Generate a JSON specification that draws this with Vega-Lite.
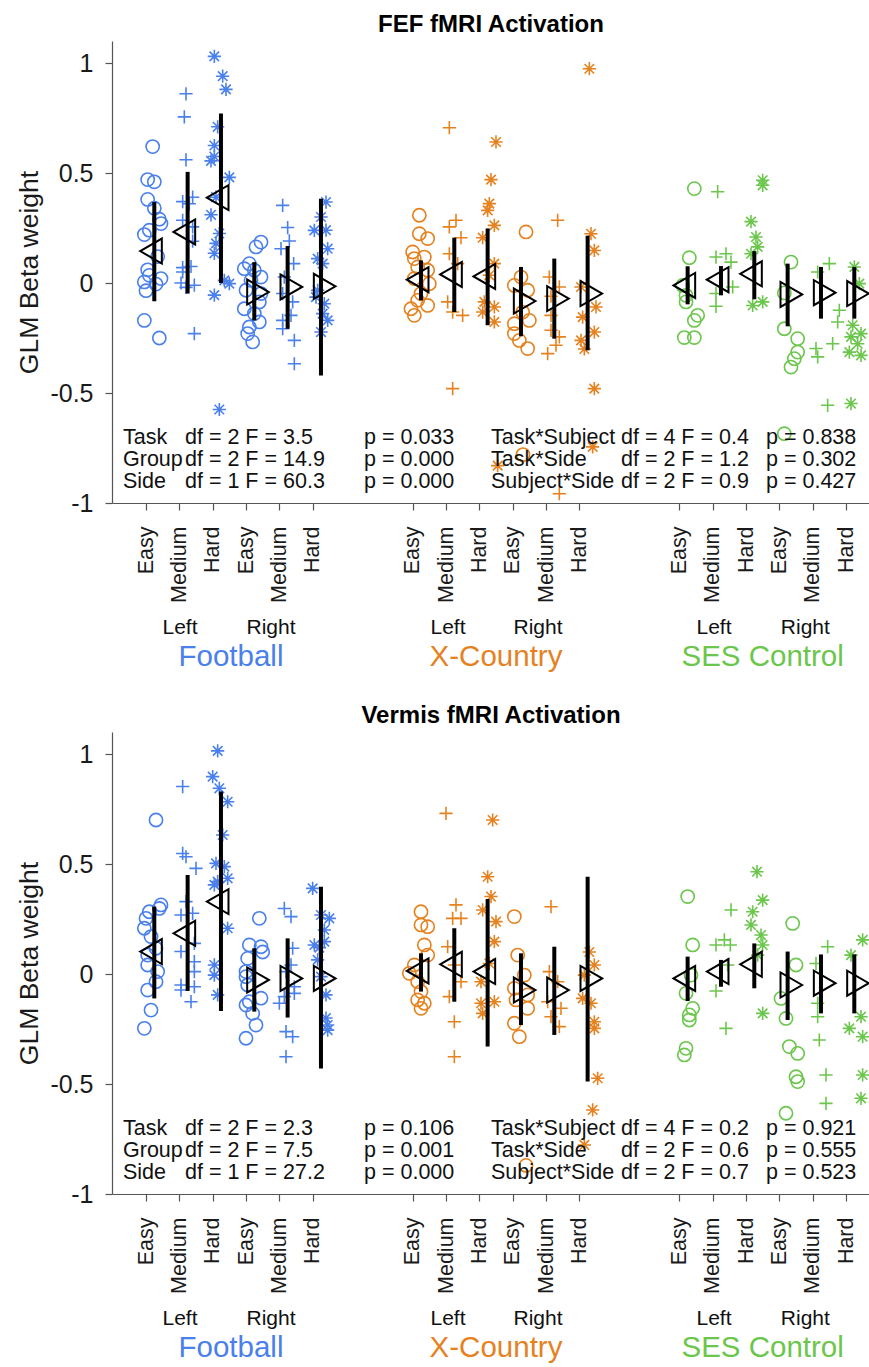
{
"$schema": "https://vega.github.io/schema/vega-lite/v6.json",
"padding": {"left": 16, "top": 13, "right": 0, "bottom": 0},
"background": "white",
"config": {
  "font": "Liberation Sans",
  "view": {"stroke": null},
  "axis": {"grid": false, "domainColor": "#555555", "tickColor": "#555555", "labelColor": "#1a1a1a", "titleColor": "#1a1a1a", "domainWidth": 1.2, "tickWidth": 1.2},
  "title": {"fontSize": 24, "fontWeight": "bold", "color": "black", "frame": "group", "anchor": "middle", "offset": 4, "baseline": "bottom"}
},
"datasets": {
  "pts": [
{"p":"F","g":"FB","t":"E","x":0.2,"y":0.62},{"p":"F","g":"FB","t":"E","x":0.05,"y":0.47},{"p":"F","g":"FB","t":"E","x":0.25,"y":0.46},{"p":"F","g":"FB","t":"E","x":0.05,"y":0.38},{"p":"F","g":"FB","t":"E","x":0.25,"y":0.34},{"p":"F","g":"FB","t":"E","x":0.4,"y":0.29},{"p":"F","g":"FB","t":"E","x":0.45,"y":0.27},{"p":"F","g":"FB","t":"E","x":0.1,"y":0.24},{"p":"F","g":"FB","t":"E","x":-0.05,"y":0.22},{"p":"F","g":"FB","t":"E","x":0.35,"y":0.12},{"p":"F","g":"FB","t":"E","x":0.05,"y":0.06},{"p":"F","g":"FB","t":"E","x":0.1,"y":0.035},{"p":"F","g":"FB","t":"E","x":0.45,"y":0.02},{"p":"F","g":"FB","t":"E","x":-0.05,"y":0.005},{"p":"F","g":"FB","t":"E","x":0.3,"y":-0.005},{"p":"F","g":"FB","t":"E","x":0.0,"y":-0.035},{"p":"F","g":"FB","t":"E","x":-0.05,"y":-0.17},{"p":"F","g":"FB","t":"E","x":0.4,"y":-0.25},
{"p":"F","g":"FB","t":"M","x":1.2,"y":0.86},{"p":"F","g":"FB","t":"M","x":1.15,"y":0.755},{"p":"F","g":"FB","t":"M","x":1.2,"y":0.56},{"p":"F","g":"FB","t":"M","x":1.4,"y":0.39},{"p":"F","g":"FB","t":"M","x":1.1,"y":0.37},{"p":"F","g":"FB","t":"M","x":1.3,"y":0.36},{"p":"F","g":"FB","t":"M","x":1.1,"y":0.285},{"p":"F","g":"FB","t":"M","x":1.4,"y":0.255},{"p":"F","g":"FB","t":"M","x":1.4,"y":0.19},{"p":"F","g":"FB","t":"M","x":1.1,"y":0.07},{"p":"F","g":"FB","t":"M","x":1.35,"y":0.075},{"p":"F","g":"FB","t":"M","x":1.1,"y":0.05},{"p":"F","g":"FB","t":"M","x":1.05,"y":0.0},{"p":"F","g":"FB","t":"M","x":1.45,"y":-0.01},{"p":"F","g":"FB","t":"M","x":1.2,"y":-0.02},{"p":"F","g":"FB","t":"M","x":1.45,"y":-0.23},
{"p":"F","g":"FB","t":"H","x":2.05,"y":1.03},{"p":"F","g":"FB","t":"H","x":2.3,"y":0.94},{"p":"F","g":"FB","t":"H","x":2.4,"y":0.88},{"p":"F","g":"FB","t":"H","x":2.15,"y":0.71},{"p":"F","g":"FB","t":"H","x":2.05,"y":0.625},{"p":"F","g":"FB","t":"H","x":2.05,"y":0.575},{"p":"F","g":"FB","t":"H","x":1.95,"y":0.555},{"p":"F","g":"FB","t":"H","x":2.5,"y":0.48},{"p":"F","g":"FB","t":"H","x":2.1,"y":0.39},{"p":"F","g":"FB","t":"H","x":1.95,"y":0.31},{"p":"F","g":"FB","t":"H","x":2.2,"y":0.225},{"p":"F","g":"FB","t":"H","x":2.1,"y":0.18},{"p":"F","g":"FB","t":"H","x":2.05,"y":0.135},{"p":"F","g":"FB","t":"H","x":2.35,"y":0.012},{"p":"F","g":"FB","t":"H","x":2.5,"y":-0.003},{"p":"F","g":"FB","t":"H","x":2.05,"y":-0.055},{"p":"F","g":"FB","t":"H","x":2.2,"y":-0.575},
{"p":"F","g":"FB","t":"E","x":3.45,"y":0.186},{"p":"F","g":"FB","t":"E","x":3.3,"y":0.164},{"p":"F","g":"FB","t":"E","x":3.1,"y":0.088},{"p":"F","g":"FB","t":"E","x":2.95,"y":0.065},{"p":"F","g":"FB","t":"E","x":3.25,"y":0.058},{"p":"F","g":"FB","t":"E","x":3.45,"y":0.027},{"p":"F","g":"FB","t":"E","x":3.15,"y":0.012},{"p":"F","g":"FB","t":"E","x":3.0,"y":-0.033},{"p":"F","g":"FB","t":"E","x":3.45,"y":-0.048},{"p":"F","g":"FB","t":"E","x":3.4,"y":-0.086},{"p":"F","g":"FB","t":"E","x":2.95,"y":-0.117},{"p":"F","g":"FB","t":"E","x":3.25,"y":-0.139},{"p":"F","g":"FB","t":"E","x":3.4,"y":-0.177},{"p":"F","g":"FB","t":"E","x":3.1,"y":-0.2},{"p":"F","g":"FB","t":"E","x":3.05,"y":-0.23},{"p":"F","g":"FB","t":"E","x":3.2,"y":-0.268},
{"p":"F","g":"FB","t":"M","x":4.1,"y":0.353},{"p":"F","g":"FB","t":"M","x":4.25,"y":0.252},{"p":"F","g":"FB","t":"M","x":4.3,"y":0.191},{"p":"F","g":"FB","t":"M","x":4.05,"y":0.156},{"p":"F","g":"FB","t":"M","x":4.43,"y":0.088},{"p":"F","g":"FB","t":"M","x":4.15,"y":0.027},{"p":"F","g":"FB","t":"M","x":4.1,"y":-0.048},{"p":"F","g":"FB","t":"M","x":4.4,"y":-0.086},{"p":"F","g":"FB","t":"M","x":4.35,"y":-0.147},{"p":"F","g":"FB","t":"M","x":4.1,"y":-0.17},{"p":"F","g":"FB","t":"M","x":4.1,"y":-0.208},{"p":"F","g":"FB","t":"M","x":4.45,"y":-0.261},{"p":"F","g":"FB","t":"M","x":4.45,"y":-0.367},
{"p":"F","g":"FB","t":"H","x":5.4,"y":0.368},{"p":"F","g":"FB","t":"H","x":5.25,"y":0.3},{"p":"F","g":"FB","t":"H","x":5.05,"y":0.239},{"p":"F","g":"FB","t":"H","x":5.4,"y":0.24},{"p":"F","g":"FB","t":"H","x":5.45,"y":0.156},{"p":"F","g":"FB","t":"H","x":5.15,"y":0.111},{"p":"F","g":"FB","t":"H","x":5.3,"y":0.088},{"p":"F","g":"FB","t":"H","x":5.15,"y":-0.033},{"p":"F","g":"FB","t":"H","x":5.1,"y":-0.064},{"p":"F","g":"FB","t":"H","x":5.35,"y":-0.094},{"p":"F","g":"FB","t":"H","x":5.3,"y":-0.139},{"p":"F","g":"FB","t":"H","x":5.45,"y":-0.17},{"p":"F","g":"FB","t":"H","x":5.25,"y":-0.223},
{"p":"F","g":"XC","t":"E","x":8.2,"y":0.308},{"p":"F","g":"XC","t":"E","x":8.2,"y":0.224},{"p":"F","g":"XC","t":"E","x":8.45,"y":0.202},{"p":"F","g":"XC","t":"E","x":8.0,"y":0.141},{"p":"F","g":"XC","t":"E","x":8.05,"y":0.111},{"p":"F","g":"XC","t":"E","x":8.35,"y":0.118},{"p":"F","g":"XC","t":"E","x":8.15,"y":0.073},{"p":"F","g":"XC","t":"E","x":8.45,"y":0.058},{"p":"F","g":"XC","t":"E","x":8.05,"y":0.02},{"p":"F","g":"XC","t":"E","x":8.5,"y":-0.003},{"p":"F","g":"XC","t":"E","x":8.25,"y":-0.048},{"p":"F","g":"XC","t":"E","x":8.15,"y":-0.079},{"p":"F","g":"XC","t":"E","x":8.45,"y":-0.102},{"p":"F","g":"XC","t":"E","x":7.95,"y":-0.117},{"p":"F","g":"XC","t":"E","x":8.05,"y":-0.147},
{"p":"F","g":"XC","t":"M","x":9.1,"y":0.706},{"p":"F","g":"XC","t":"M","x":9.3,"y":0.285},{"p":"F","g":"XC","t":"M","x":9.1,"y":0.255},{"p":"F","g":"XC","t":"M","x":9.45,"y":0.206},{"p":"F","g":"XC","t":"M","x":9.1,"y":0.133},{"p":"F","g":"XC","t":"M","x":9.35,"y":0.088},{"p":"F","g":"XC","t":"M","x":9.05,"y":-0.086},{"p":"F","g":"XC","t":"M","x":9.2,"y":-0.132},{"p":"F","g":"XC","t":"M","x":9.5,"y":-0.147},{"p":"F","g":"XC","t":"M","x":9.2,"y":-0.48},
{"p":"F","g":"XC","t":"H","x":10.5,"y":0.641},{"p":"F","g":"XC","t":"H","x":10.35,"y":0.47},{"p":"F","g":"XC","t":"H","x":10.3,"y":0.361},{"p":"F","g":"XC","t":"H","x":10.25,"y":0.33},{"p":"F","g":"XC","t":"H","x":10.45,"y":0.262},{"p":"F","g":"XC","t":"H","x":10.1,"y":0.206},{"p":"F","g":"XC","t":"H","x":10.45,"y":0.088},{"p":"F","g":"XC","t":"H","x":10.3,"y":0.035},{"p":"F","g":"XC","t":"H","x":10.15,"y":-0.086},{"p":"F","g":"XC","t":"H","x":10.45,"y":-0.109},{"p":"F","g":"XC","t":"H","x":10.1,"y":-0.132},{"p":"F","g":"XC","t":"H","x":10.45,"y":-0.177},{"p":"F","g":"XC","t":"H","x":10.55,"y":-0.83},
{"p":"F","g":"XC","t":"E","x":11.4,"y":0.232},{"p":"F","g":"XC","t":"E","x":11.25,"y":0.027},{"p":"F","g":"XC","t":"E","x":11.05,"y":-0.011},{"p":"F","g":"XC","t":"E","x":11.45,"y":-0.033},{"p":"F","g":"XC","t":"E","x":11.3,"y":-0.132},{"p":"F","g":"XC","t":"E","x":11.5,"y":-0.17},{"p":"F","g":"XC","t":"E","x":11.05,"y":-0.185},{"p":"F","g":"XC","t":"E","x":11.05,"y":-0.23},{"p":"F","g":"XC","t":"E","x":11.2,"y":-0.261},{"p":"F","g":"XC","t":"E","x":11.45,"y":-0.298},{"p":"F","g":"XC","t":"E","x":11.31,"y":-0.78},
{"p":"F","g":"XC","t":"M","x":12.35,"y":0.285},{"p":"F","g":"XC","t":"M","x":12.1,"y":0.027},{"p":"F","g":"XC","t":"M","x":12.4,"y":-0.018},{"p":"F","g":"XC","t":"M","x":12.15,"y":-0.06},{"p":"F","g":"XC","t":"M","x":12.15,"y":-0.147},{"p":"F","g":"XC","t":"M","x":12.15,"y":-0.215},{"p":"F","g":"XC","t":"M","x":12.4,"y":-0.245},{"p":"F","g":"XC","t":"M","x":12.3,"y":-0.283},{"p":"F","g":"XC","t":"M","x":12.05,"y":-0.321},{"p":"F","g":"XC","t":"M","x":12.4,"y":-0.958},
{"p":"F","g":"XC","t":"H","x":13.3,"y":0.974},{"p":"F","g":"XC","t":"H","x":13.35,"y":0.224},{"p":"F","g":"XC","t":"H","x":13.45,"y":0.148},{"p":"F","g":"XC","t":"H","x":13.05,"y":-0.018},{"p":"F","g":"XC","t":"H","x":13.5,"y":-0.109},{"p":"F","g":"XC","t":"H","x":13.1,"y":-0.155},{"p":"F","g":"XC","t":"H","x":13.45,"y":-0.223},{"p":"F","g":"XC","t":"H","x":13.05,"y":-0.261},{"p":"F","g":"XC","t":"H","x":13.15,"y":-0.3},{"p":"F","g":"XC","t":"H","x":13.45,"y":-0.48},{"p":"F","g":"XC","t":"H","x":13.4,"y":-0.745},
{"p":"F","g":"SES","t":"E","x":16.45,"y":0.429},{"p":"F","g":"SES","t":"E","x":16.3,"y":0.115},{"p":"F","g":"SES","t":"E","x":16.1,"y":-0.011},{"p":"F","g":"SES","t":"E","x":16.2,"y":-0.056},{"p":"F","g":"SES","t":"E","x":16.2,"y":-0.086},{"p":"F","g":"SES","t":"E","x":16.55,"y":-0.147},{"p":"F","g":"SES","t":"E","x":16.45,"y":-0.17},{"p":"F","g":"SES","t":"E","x":16.15,"y":-0.248},{"p":"F","g":"SES","t":"E","x":16.45,"y":-0.248},
{"p":"F","g":"SES","t":"M","x":17.15,"y":0.415},{"p":"F","g":"SES","t":"M","x":17.1,"y":0.118},{"p":"F","g":"SES","t":"M","x":17.4,"y":0.133},{"p":"F","g":"SES","t":"M","x":17.55,"y":0.095},{"p":"F","g":"SES","t":"M","x":17.6,"y":-0.018},{"p":"F","g":"SES","t":"M","x":17.1,"y":-0.048},{"p":"F","g":"SES","t":"M","x":17.1,"y":-0.106},
{"p":"F","g":"SES","t":"H","x":18.5,"y":0.467},{"p":"F","g":"SES","t":"H","x":18.5,"y":0.444},{"p":"F","g":"SES","t":"H","x":18.15,"y":0.279},{"p":"F","g":"SES","t":"H","x":18.3,"y":0.209},{"p":"F","g":"SES","t":"H","x":18.35,"y":0.164},{"p":"F","g":"SES","t":"H","x":18.15,"y":0.133},{"p":"F","g":"SES","t":"H","x":18.5,"y":-0.086},{"p":"F","g":"SES","t":"H","x":18.2,"y":-0.102},
{"p":"F","g":"SES","t":"E","x":19.35,"y":0.095},{"p":"F","g":"SES","t":"E","x":19.15,"y":-0.045},{"p":"F","g":"SES","t":"E","x":19.15,"y":-0.208},{"p":"F","g":"SES","t":"E","x":19.55,"y":-0.253},{"p":"F","g":"SES","t":"E","x":19.55,"y":-0.314},{"p":"F","g":"SES","t":"E","x":19.45,"y":-0.344},{"p":"F","g":"SES","t":"E","x":19.35,"y":-0.382},{"p":"F","g":"SES","t":"E","x":19.15,"y":-0.685},
{"p":"F","g":"SES","t":"M","x":20.5,"y":0.088},{"p":"F","g":"SES","t":"M","x":20.15,"y":0.05},{"p":"F","g":"SES","t":"M","x":20.8,"y":-0.124},{"p":"F","g":"SES","t":"M","x":20.75,"y":-0.177},{"p":"F","g":"SES","t":"M","x":20.6,"y":-0.276},{"p":"F","g":"SES","t":"M","x":20.1,"y":-0.298},{"p":"F","g":"SES","t":"M","x":20.15,"y":-0.336},{"p":"F","g":"SES","t":"M","x":20.45,"y":-0.556},
{"p":"F","g":"SES","t":"H","x":21.25,"y":0.073},{"p":"F","g":"SES","t":"H","x":21.4,"y":-0.003},{"p":"F","g":"SES","t":"H","x":21.2,"y":-0.192},{"p":"F","g":"SES","t":"H","x":21.45,"y":-0.23},{"p":"F","g":"SES","t":"H","x":21.15,"y":-0.245},{"p":"F","g":"SES","t":"H","x":21.35,"y":-0.276},{"p":"F","g":"SES","t":"H","x":21.1,"y":-0.314},{"p":"F","g":"SES","t":"H","x":21.45,"y":-0.329},{"p":"F","g":"SES","t":"H","x":21.15,"y":-0.548},
{"p":"V","g":"FB","t":"E","x":0.3,"y":0.7},{"p":"V","g":"FB","t":"E","x":0.45,"y":0.314},{"p":"V","g":"FB","t":"E","x":0.4,"y":0.298},{"p":"V","g":"FB","t":"E","x":0.1,"y":0.283},{"p":"V","g":"FB","t":"E","x":0.0,"y":0.253},{"p":"V","g":"FB","t":"E","x":-0.05,"y":0.208},{"p":"V","g":"FB","t":"E","x":0.15,"y":0.17},{"p":"V","g":"FB","t":"E","x":0.3,"y":0.117},{"p":"V","g":"FB","t":"E","x":0.05,"y":0.086},{"p":"V","g":"FB","t":"E","x":0.05,"y":0.041},{"p":"V","g":"FB","t":"E","x":0.35,"y":0.011},{"p":"V","g":"FB","t":"E","x":0.3,"y":-0.035},{"p":"V","g":"FB","t":"E","x":0.05,"y":-0.073},{"p":"V","g":"FB","t":"E","x":0.15,"y":-0.164},{"p":"V","g":"FB","t":"E","x":-0.05,"y":-0.247},
{"p":"V","g":"FB","t":"M","x":1.1,"y":0.852},{"p":"V","g":"FB","t":"M","x":1.1,"y":0.548},{"p":"V","g":"FB","t":"M","x":1.2,"y":0.533},{"p":"V","g":"FB","t":"M","x":1.5,"y":0.48},{"p":"V","g":"FB","t":"M","x":1.2,"y":0.329},{"p":"V","g":"FB","t":"M","x":1.05,"y":0.268},{"p":"V","g":"FB","t":"M","x":1.4,"y":0.276},{"p":"V","g":"FB","t":"M","x":1.45,"y":0.139},{"p":"V","g":"FB","t":"M","x":1.05,"y":0.102},{"p":"V","g":"FB","t":"M","x":1.45,"y":0.056},{"p":"V","g":"FB","t":"M","x":1.45,"y":0.011},{"p":"V","g":"FB","t":"M","x":1.05,"y":-0.05},{"p":"V","g":"FB","t":"M","x":1.45,"y":-0.058},{"p":"V","g":"FB","t":"M","x":1.05,"y":-0.073},{"p":"V","g":"FB","t":"M","x":1.35,"y":-0.126},
{"p":"V","g":"FB","t":"H","x":2.15,"y":1.014},{"p":"V","g":"FB","t":"H","x":2.0,"y":0.897},{"p":"V","g":"FB","t":"H","x":2.2,"y":0.844},{"p":"V","g":"FB","t":"H","x":2.45,"y":0.783},{"p":"V","g":"FB","t":"H","x":2.3,"y":0.632},{"p":"V","g":"FB","t":"H","x":2.1,"y":0.503},{"p":"V","g":"FB","t":"H","x":2.35,"y":0.488},{"p":"V","g":"FB","t":"H","x":2.45,"y":0.435},{"p":"V","g":"FB","t":"H","x":2.15,"y":0.42},{"p":"V","g":"FB","t":"H","x":2.05,"y":0.405},{"p":"V","g":"FB","t":"H","x":2.45,"y":0.208},{"p":"V","g":"FB","t":"H","x":2.05,"y":0.041},{"p":"V","g":"FB","t":"H","x":2.05,"y":-0.005},{"p":"V","g":"FB","t":"H","x":2.15,"y":-0.095},
{"p":"V","g":"FB","t":"E","x":3.4,"y":0.253},{"p":"V","g":"FB","t":"E","x":3.1,"y":0.132},{"p":"V","g":"FB","t":"E","x":3.45,"y":0.124},{"p":"V","g":"FB","t":"E","x":3.5,"y":0.1},{"p":"V","g":"FB","t":"E","x":3.05,"y":0.071},{"p":"V","g":"FB","t":"E","x":3.0,"y":0.011},{"p":"V","g":"FB","t":"E","x":3.0,"y":-0.012},{"p":"V","g":"FB","t":"E","x":3.05,"y":-0.05},{"p":"V","g":"FB","t":"E","x":3.45,"y":-0.11},{"p":"V","g":"FB","t":"E","x":3.1,"y":-0.126},{"p":"V","g":"FB","t":"E","x":3.0,"y":-0.141},{"p":"V","g":"FB","t":"E","x":3.2,"y":-0.179},{"p":"V","g":"FB","t":"E","x":3.3,"y":-0.232},{"p":"V","g":"FB","t":"E","x":3.0,"y":-0.292},
{"p":"V","g":"FB","t":"M","x":4.15,"y":0.298},{"p":"V","g":"FB","t":"M","x":4.35,"y":0.261},{"p":"V","g":"FB","t":"M","x":4.4,"y":0.117},{"p":"V","g":"FB","t":"M","x":4.35,"y":0.041},{"p":"V","g":"FB","t":"M","x":4.2,"y":0.011},{"p":"V","g":"FB","t":"M","x":4.45,"y":-0.058},{"p":"V","g":"FB","t":"M","x":4.45,"y":-0.088},{"p":"V","g":"FB","t":"M","x":4.15,"y":-0.103},{"p":"V","g":"FB","t":"M","x":4.0,"y":-0.133},{"p":"V","g":"FB","t":"M","x":4.2,"y":-0.262},{"p":"V","g":"FB","t":"M","x":4.4,"y":-0.285},{"p":"V","g":"FB","t":"M","x":4.2,"y":-0.376},
{"p":"V","g":"FB","t":"H","x":5.0,"y":0.389},{"p":"V","g":"FB","t":"H","x":5.5,"y":0.253},{"p":"V","g":"FB","t":"H","x":5.25,"y":0.268},{"p":"V","g":"FB","t":"H","x":5.35,"y":0.2},{"p":"V","g":"FB","t":"H","x":5.35,"y":0.147},{"p":"V","g":"FB","t":"H","x":5.05,"y":0.132},{"p":"V","g":"FB","t":"H","x":5.2,"y":0.12},{"p":"V","g":"FB","t":"H","x":5.15,"y":0.064},{"p":"V","g":"FB","t":"H","x":5.25,"y":-0.012},{"p":"V","g":"FB","t":"H","x":5.4,"y":-0.095},{"p":"V","g":"FB","t":"H","x":5.4,"y":-0.2},{"p":"V","g":"FB","t":"H","x":5.45,"y":-0.232},{"p":"V","g":"FB","t":"H","x":5.45,"y":-0.255},
{"p":"V","g":"XC","t":"E","x":8.25,"y":0.283},{"p":"V","g":"XC","t":"E","x":8.25,"y":0.223},{"p":"V","g":"XC","t":"E","x":8.45,"y":0.215},{"p":"V","g":"XC","t":"E","x":8.35,"y":0.132},{"p":"V","g":"XC","t":"E","x":8.45,"y":0.086},{"p":"V","g":"XC","t":"E","x":8.05,"y":0.041},{"p":"V","g":"XC","t":"E","x":7.9,"y":0.003},{"p":"V","g":"XC","t":"E","x":8.15,"y":-0.035},{"p":"V","g":"XC","t":"E","x":8.25,"y":-0.08},{"p":"V","g":"XC","t":"E","x":8.15,"y":-0.118},{"p":"V","g":"XC","t":"E","x":8.35,"y":-0.133},{"p":"V","g":"XC","t":"E","x":8.25,"y":-0.156},
{"p":"V","g":"XC","t":"M","x":9.0,"y":0.73},{"p":"V","g":"XC","t":"M","x":9.3,"y":0.314},{"p":"V","g":"XC","t":"M","x":9.2,"y":0.253},{"p":"V","g":"XC","t":"M","x":9.45,"y":0.253},{"p":"V","g":"XC","t":"M","x":9.05,"y":0.124},{"p":"V","g":"XC","t":"M","x":9.25,"y":0.041},{"p":"V","g":"XC","t":"M","x":9.45,"y":-0.035},{"p":"V","g":"XC","t":"M","x":9.1,"y":-0.103},{"p":"V","g":"XC","t":"M","x":9.25,"y":-0.217},{"p":"V","g":"XC","t":"M","x":9.25,"y":-0.376},
{"p":"V","g":"XC","t":"H","x":10.4,"y":0.7},{"p":"V","g":"XC","t":"H","x":10.25,"y":0.442},{"p":"V","g":"XC","t":"H","x":10.35,"y":0.352},{"p":"V","g":"XC","t":"H","x":10.1,"y":0.291},{"p":"V","g":"XC","t":"H","x":10.5,"y":0.238},{"p":"V","g":"XC","t":"H","x":10.45,"y":0.147},{"p":"V","g":"XC","t":"H","x":10.3,"y":0.048},{"p":"V","g":"XC","t":"H","x":10.05,"y":-0.035},{"p":"V","g":"XC","t":"H","x":10.05,"y":-0.133},{"p":"V","g":"XC","t":"H","x":10.45,"y":-0.126},{"p":"V","g":"XC","t":"H","x":10.1,"y":-0.179},
{"p":"V","g":"XC","t":"E","x":11.05,"y":0.261},{"p":"V","g":"XC","t":"E","x":11.15,"y":0.086},{"p":"V","g":"XC","t":"E","x":11.35,"y":-0.005},{"p":"V","g":"XC","t":"E","x":11.05,"y":-0.065},{"p":"V","g":"XC","t":"E","x":11.45,"y":-0.095},{"p":"V","g":"XC","t":"E","x":11.1,"y":-0.118},{"p":"V","g":"XC","t":"E","x":11.45,"y":-0.156},{"p":"V","g":"XC","t":"E","x":11.05,"y":-0.224},{"p":"V","g":"XC","t":"E","x":11.2,"y":-0.285},{"p":"V","g":"XC","t":"E","x":11.4,"y":-0.87},
{"p":"V","g":"XC","t":"M","x":12.15,"y":0.306},{"p":"V","g":"XC","t":"M","x":12.1,"y":0.011},{"p":"V","g":"XC","t":"M","x":12.35,"y":-0.035},{"p":"V","g":"XC","t":"M","x":12.05,"y":-0.126},{"p":"V","g":"XC","t":"M","x":12.45,"y":-0.156},{"p":"V","g":"XC","t":"M","x":12.15,"y":-0.194},{"p":"V","g":"XC","t":"M","x":12.4,"y":-0.239},
{"p":"V","g":"XC","t":"H","x":13.3,"y":0.1},{"p":"V","g":"XC","t":"H","x":13.45,"y":0.041},{"p":"V","g":"XC","t":"H","x":13.15,"y":-0.005},{"p":"V","g":"XC","t":"H","x":13.1,"y":-0.111},{"p":"V","g":"XC","t":"H","x":13.35,"y":-0.133},{"p":"V","g":"XC","t":"H","x":13.45,"y":-0.217},{"p":"V","g":"XC","t":"H","x":13.45,"y":-0.247},{"p":"V","g":"XC","t":"H","x":13.55,"y":-0.474},{"p":"V","g":"XC","t":"H","x":13.4,"y":-0.618},{"p":"V","g":"XC","t":"H","x":13.15,"y":-0.777},
{"p":"V","g":"SES","t":"E","x":16.25,"y":0.352},{"p":"V","g":"SES","t":"E","x":16.4,"y":0.132},{"p":"V","g":"SES","t":"E","x":16.35,"y":-0.005},{"p":"V","g":"SES","t":"E","x":16.2,"y":-0.088},{"p":"V","g":"SES","t":"E","x":16.4,"y":-0.156},{"p":"V","g":"SES","t":"E","x":16.3,"y":-0.186},{"p":"V","g":"SES","t":"E","x":16.3,"y":-0.209},{"p":"V","g":"SES","t":"E","x":16.2,"y":-0.338},{"p":"V","g":"SES","t":"E","x":16.15,"y":-0.368},
{"p":"V","g":"SES","t":"M","x":17.55,"y":0.291},{"p":"V","g":"SES","t":"M","x":17.35,"y":0.155},{"p":"V","g":"SES","t":"M","x":17.1,"y":0.132},{"p":"V","g":"SES","t":"M","x":17.53,"y":0.132},{"p":"V","g":"SES","t":"M","x":17.45,"y":0.041},{"p":"V","g":"SES","t":"M","x":17.1,"y":-0.077},{"p":"V","g":"SES","t":"M","x":17.4,"y":-0.247},
{"p":"V","g":"SES","t":"H","x":18.33,"y":0.465},{"p":"V","g":"SES","t":"H","x":18.5,"y":0.336},{"p":"V","g":"SES","t":"H","x":18.2,"y":0.283},{"p":"V","g":"SES","t":"H","x":18.15,"y":0.223},{"p":"V","g":"SES","t":"H","x":18.45,"y":0.177},{"p":"V","g":"SES","t":"H","x":18.5,"y":0.132},{"p":"V","g":"SES","t":"H","x":18.35,"y":0.086},{"p":"V","g":"SES","t":"H","x":18.5,"y":-0.179},
{"p":"V","g":"SES","t":"E","x":19.4,"y":0.23},{"p":"V","g":"SES","t":"E","x":19.5,"y":0.041},{"p":"V","g":"SES","t":"E","x":19.05,"y":-0.111},{"p":"V","g":"SES","t":"E","x":19.2,"y":-0.202},{"p":"V","g":"SES","t":"E","x":19.3,"y":-0.33},{"p":"V","g":"SES","t":"E","x":19.55,"y":-0.361},{"p":"V","g":"SES","t":"E","x":19.5,"y":-0.467},{"p":"V","g":"SES","t":"E","x":19.55,"y":-0.489},{"p":"V","g":"SES","t":"E","x":19.2,"y":-0.633},
{"p":"V","g":"SES","t":"M","x":20.45,"y":0.124},{"p":"V","g":"SES","t":"M","x":20.1,"y":0.048},{"p":"V","g":"SES","t":"M","x":20.15,"y":-0.133},{"p":"V","g":"SES","t":"M","x":20.15,"y":-0.194},{"p":"V","g":"SES","t":"M","x":20.2,"y":-0.3},{"p":"V","g":"SES","t":"M","x":20.4,"y":-0.459},{"p":"V","g":"SES","t":"M","x":20.4,"y":-0.588},
{"p":"V","g":"SES","t":"H","x":21.5,"y":0.155},{"p":"V","g":"SES","t":"H","x":21.15,"y":0.086},{"p":"V","g":"SES","t":"H","x":21.45,"y":-0.194},{"p":"V","g":"SES","t":"H","x":21.1,"y":-0.247},{"p":"V","g":"SES","t":"H","x":21.5,"y":-0.285},{"p":"V","g":"SES","t":"H","x":21.5,"y":-0.459},{"p":"V","g":"SES","t":"H","x":21.45,"y":-0.565}
  ],
  "summ": [
{"p":"F","s":"L","x":0,"y":0.145,"lo":-0.083,"hi":0.368},{"p":"F","s":"L","x":1,"y":0.232,"lo":-0.048,"hi":0.505},{"p":"F","s":"L","x":2,"y":0.388,"lo":0.0,"hi":0.77},
{"p":"F","s":"R","x":3,"y":-0.041,"lo":-0.17,"hi":0.095},{"p":"F","s":"R","x":4,"y":-0.018,"lo":-0.208,"hi":0.168},{"p":"F","s":"R","x":5,"y":-0.015,"lo":-0.42,"hi":0.383},
{"p":"F","s":"L","x":8,"y":0.015,"lo":-0.079,"hi":0.103},{"p":"F","s":"L","x":9,"y":0.039,"lo":-0.132,"hi":0.206},{"p":"F","s":"L","x":10,"y":0.03,"lo":-0.192,"hi":0.248},
{"p":"F","s":"R","x":11,"y":-0.082,"lo":-0.242,"hi":0.073},{"p":"F","s":"R","x":12,"y":-0.071,"lo":-0.253,"hi":0.111},{"p":"F","s":"R","x":13,"y":-0.048,"lo":-0.306,"hi":0.215},
{"p":"F","s":"L","x":16,"y":-0.011,"lo":-0.097,"hi":0.076},{"p":"F","s":"L","x":17,"y":0.015,"lo":-0.056,"hi":0.077},{"p":"F","s":"L","x":18,"y":0.042,"lo":-0.074,"hi":0.145},
{"p":"F","s":"R","x":19,"y":-0.052,"lo":-0.197,"hi":0.088},{"p":"F","s":"R","x":20,"y":-0.044,"lo":-0.162,"hi":0.073},{"p":"F","s":"R","x":21,"y":-0.048,"lo":-0.162,"hi":0.073},
{"p":"V","s":"L","x":0,"y":0.102,"lo":-0.111,"hi":0.306},{"p":"V","s":"L","x":1,"y":0.185,"lo":-0.077,"hi":0.45},{"p":"V","s":"L","x":2,"y":0.329,"lo":-0.168,"hi":0.829},
{"p":"V","s":"R","x":3,"y":-0.027,"lo":-0.171,"hi":0.117},{"p":"V","s":"R","x":4,"y":-0.02,"lo":-0.198,"hi":0.162},{"p":"V","s":"R","x":5,"y":-0.02,"lo":-0.429,"hi":0.397},
{"p":"V","s":"L","x":8,"y":0.014,"lo":-0.08,"hi":0.094},{"p":"V","s":"L","x":9,"y":0.044,"lo":-0.126,"hi":0.208},{"p":"V","s":"L","x":10,"y":0.011,"lo":-0.33,"hi":0.341},
{"p":"V","s":"R","x":11,"y":-0.073,"lo":-0.232,"hi":0.094},{"p":"V","s":"R","x":12,"y":-0.073,"lo":-0.277,"hi":0.124},{"p":"V","s":"R","x":13,"y":-0.02,"lo":-0.489,"hi":0.442},
{"p":"V","s":"L","x":16,"y":-0.02,"lo":-0.123,"hi":0.079},{"p":"V","s":"L","x":17,"y":0.011,"lo":-0.058,"hi":0.064},{"p":"V","s":"L","x":18,"y":0.044,"lo":-0.065,"hi":0.139},
{"p":"V","s":"R","x":19,"y":-0.05,"lo":-0.209,"hi":0.102},{"p":"V","s":"R","x":20,"y":-0.042,"lo":-0.179,"hi":0.089},{"p":"V","s":"R","x":21,"y":-0.042,"lo":-0.179,"hi":0.089}
  ],
  "stats": [
{"p":"F","x":-0.69,"y":-0.703,"t":"Task"},{"p":"F","x":1.17,"y":-0.703,"t":"df = 2 F = 3.5"},{"p":"F","x":6.54,"y":-0.703,"t":"p = 0.033"},{"p":"F","x":10.35,"y":-0.703,"t":"Task*Subject"},{"p":"F","x":14.25,"y":-0.703,"t":"df = 4 F = 0.4"},{"p":"F","x":18.6,"y":-0.703,"t":"p = 0.838"},
{"p":"F","x":-0.69,"y":-0.806,"t":"Group"},{"p":"F","x":1.17,"y":-0.806,"t":"df = 2 F = 14.9"},{"p":"F","x":6.54,"y":-0.806,"t":"p = 0.000"},{"p":"F","x":10.35,"y":-0.806,"t":"Task*Side"},{"p":"F","x":14.25,"y":-0.806,"t":"df = 2 F = 1.2"},{"p":"F","x":18.6,"y":-0.806,"t":"p = 0.302"},
{"p":"F","x":-0.69,"y":-0.905,"t":"Side"},{"p":"F","x":1.17,"y":-0.905,"t":"df = 1 F = 60.3"},{"p":"F","x":6.54,"y":-0.905,"t":"p = 0.000"},{"p":"F","x":10.35,"y":-0.905,"t":"Subject*Side"},{"p":"F","x":14.25,"y":-0.905,"t":"df = 2 F = 0.9"},{"p":"F","x":18.6,"y":-0.905,"t":"p = 0.427"},
{"p":"V","x":-0.69,"y":-0.703,"t":"Task"},{"p":"V","x":1.17,"y":-0.703,"t":"df = 2 F = 2.3"},{"p":"V","x":6.54,"y":-0.703,"t":"p = 0.106"},{"p":"V","x":10.35,"y":-0.703,"t":"Task*Subject"},{"p":"V","x":14.25,"y":-0.703,"t":"df = 4 F = 0.2"},{"p":"V","x":18.6,"y":-0.703,"t":"p = 0.921"},
{"p":"V","x":-0.69,"y":-0.806,"t":"Group"},{"p":"V","x":1.17,"y":-0.806,"t":"df = 2 F = 7.5"},{"p":"V","x":6.54,"y":-0.806,"t":"p = 0.001"},{"p":"V","x":10.35,"y":-0.806,"t":"Task*Side"},{"p":"V","x":14.25,"y":-0.806,"t":"df = 2 F = 0.6"},{"p":"V","x":18.6,"y":-0.806,"t":"p = 0.555"},
{"p":"V","x":-0.69,"y":-0.905,"t":"Side"},{"p":"V","x":1.17,"y":-0.905,"t":"df = 1 F = 27.2"},{"p":"V","x":6.54,"y":-0.905,"t":"p = 0.000"},{"p":"V","x":10.35,"y":-0.905,"t":"Subject*Side"},{"p":"V","x":14.25,"y":-0.905,"t":"df = 2 F = 0.7"},{"p":"V","x":18.6,"y":-0.905,"t":"p = 0.523"}
  ],
  "sides": [
{"x":1.02,"y":-1.567,"t":"Left"},{"x":3.75,"y":-1.567,"t":"Right"},{"x":9.06,"y":-1.567,"t":"Left"},{"x":11.76,"y":-1.567,"t":"Right"},{"x":17.04,"y":-1.567,"t":"Left"},{"x":19.78,"y":-1.567,"t":"Right"}
  ],
  "groups": [
{"x":2.55,"y":-1.7,"t":"Football","g":"FB"},{"x":10.5,"y":-1.7,"t":"X-Country","g":"XC"},{"x":18.5,"y":-1.7,"t":"SES Control","g":"SES"}
  ]
},
"vconcat": [
{
  "title": {"text": "FEF fMRI Activation"},
  "width": 758, "height": 462,
  "encoding": {
    "x": {"field": "x", "type": "quantitative", "scale": {"domain": [-1.02, 21.72], "nice": false, "zero": false},
      "axis": {"values": [0,1,2,3,4,5,8,9,10,11,12,13,16,17,18,19,20,21], "labelExpr": "['Easy','Medium','Hard'][(datum.value % 8) % 3]", "labelAngle": -90, "labelAlign": "right", "labelBaseline": "middle", "labelFontSize": 21.5, "labelPadding": 16, "tickSize": 7, "title": null, "labelOverlap": false, "labelFlush": false, "labelBound": false}},
    "y": {"field": "y", "type": "quantitative", "title": "GLM Beta weight", "scale": {"domain": [-1, 1.1], "nice": false, "zero": false},
      "axis": {"values": [-1,-0.5,0,0.5,1], "labelExpr": "'' + datum.value", "labelFontSize": 25, "labelPadding": 12, "tickSize": 7, "titleFontSize": 26.5, "titleFontWeight": "normal", "titlePadding": 6, "labelOverlap": false, "labelFlush": false}}
  },
  "layer": [
    {"data": {"values": [{"a": 1}]}, "mark": {"type": "rule", "color": "#6b6b6b", "strokeWidth": 1.2},
     "encoding": {"x": {"datum": 0, "type": "quantitative"}, "x2": {"datum": 21.72}, "y": {"datum": 0, "type": "quantitative"}}},
    {"data": {"name": "pts"}, "transform": [{"filter": "datum.p == 'F'"}],
     "mark": {"type": "point", "filled": false, "size": 175, "strokeWidth": 1.6, "opacity": 1, "clip": true},
     "encoding": {
       "color": {"field": "g", "type": "nominal", "scale": {"domain": ["FB","XC","SES"], "range": ["#4a80ec","#e5821f","#6bc64c"]}, "legend": null},
       "shape": {"field": "t", "type": "nominal", "scale": {"domain": ["E","M","H"], "range": ["circle","M-1,0L1,0M0,-1L0,1","M-1,0L1,0M0,-1L0,1M-0.72,-0.72L0.72,0.72M-0.72,0.72L0.72,-0.72"]}, "legend": null}}},
    {"data": {"name": "summ"}, "transform": [{"filter": "datum.p == 'F'"}],
     "mark": {"type": "rule", "color": "black", "strokeWidth": 4, "xOffset": 8.3},
     "encoding": {"y": {"field": "lo", "type": "quantitative", "title": "GLM Beta weight", "scale": {"domain": [-1, 1.1], "nice": false, "zero": false}}, "y2": {"field": "hi"}}},
    {"data": {"name": "summ"}, "transform": [{"filter": "datum.p == 'F' && datum.s == 'L'"}],
     "mark": {"type": "point", "shape": "triangle-left", "filled": false, "size": 625, "strokeWidth": 2, "color": "black", "opacity": 1, "xOffset": 5, "clip": true}},
    {"data": {"name": "summ"}, "transform": [{"filter": "datum.p == 'F' && datum.s == 'R'"}],
     "mark": {"type": "point", "shape": "triangle-right", "filled": false, "size": 625, "strokeWidth": 2, "color": "black", "opacity": 1, "xOffset": 12, "clip": true}},
    {"data": {"name": "stats"}, "transform": [{"filter": "datum.p == 'F'"}],
     "mark": {"type": "text", "align": "left", "baseline": "middle", "fontSize": 21.5, "color": "#111111"},
     "encoding": {"text": {"field": "t"}}},
    {"data": {"name": "sides"},
     "mark": {"type": "text", "align": "center", "baseline": "middle", "fontSize": 21, "color": "#111111"},
     "encoding": {"text": {"field": "t"}}},
    {"data": {"name": "groups"},
     "mark": {"type": "text", "align": "center", "baseline": "middle", "fontSize": 29.5},
     "encoding": {"text": {"field": "t"}, "color": {"field": "g", "type": "nominal", "scale": {"domain": ["FB","XC","SES"], "range": ["#4a80ec","#e5821f","#6bc64c"]}, "legend": null}}}
  ]
},
{
  "title": {"text": "Vermis fMRI Activation"},
  "width": 758, "height": 462,
  "encoding": {
    "x": {"field": "x", "type": "quantitative", "scale": {"domain": [-1.02, 21.72], "nice": false, "zero": false},
      "axis": {"values": [0,1,2,3,4,5,8,9,10,11,12,13,16,17,18,19,20,21], "labelExpr": "['Easy','Medium','Hard'][(datum.value % 8) % 3]", "labelAngle": -90, "labelAlign": "right", "labelBaseline": "middle", "labelFontSize": 21.5, "labelPadding": 16, "tickSize": 7, "title": null, "labelOverlap": false, "labelFlush": false, "labelBound": false}},
    "y": {"field": "y", "type": "quantitative", "title": "GLM Beta weight", "scale": {"domain": [-1, 1.1], "nice": false, "zero": false},
      "axis": {"values": [-1,-0.5,0,0.5,1], "labelExpr": "'' + datum.value", "labelFontSize": 25, "labelPadding": 12, "tickSize": 7, "titleFontSize": 26.5, "titleFontWeight": "normal", "titlePadding": 6, "labelOverlap": false, "labelFlush": false}}
  },
  "layer": [
    {"data": {"values": [{"a": 1}]}, "mark": {"type": "rule", "color": "#6b6b6b", "strokeWidth": 1.2},
     "encoding": {"x": {"datum": 0, "type": "quantitative"}, "x2": {"datum": 21.72}, "y": {"datum": 0, "type": "quantitative"}}},
    {"data": {"name": "pts"}, "transform": [{"filter": "datum.p == 'V'"}],
     "mark": {"type": "point", "filled": false, "size": 175, "strokeWidth": 1.6, "opacity": 1, "clip": true},
     "encoding": {
       "color": {"field": "g", "type": "nominal", "scale": {"domain": ["FB","XC","SES"], "range": ["#4a80ec","#e5821f","#6bc64c"]}, "legend": null},
       "shape": {"field": "t", "type": "nominal", "scale": {"domain": ["E","M","H"], "range": ["circle","M-1,0L1,0M0,-1L0,1","M-1,0L1,0M0,-1L0,1M-0.72,-0.72L0.72,0.72M-0.72,0.72L0.72,-0.72"]}, "legend": null}}},
    {"data": {"name": "summ"}, "transform": [{"filter": "datum.p == 'V'"}],
     "mark": {"type": "rule", "color": "black", "strokeWidth": 4, "xOffset": 8.3},
     "encoding": {"y": {"field": "lo", "type": "quantitative", "title": "GLM Beta weight", "scale": {"domain": [-1, 1.1], "nice": false, "zero": false}}, "y2": {"field": "hi"}}},
    {"data": {"name": "summ"}, "transform": [{"filter": "datum.p == 'V' && datum.s == 'L'"}],
     "mark": {"type": "point", "shape": "triangle-left", "filled": false, "size": 625, "strokeWidth": 2, "color": "black", "opacity": 1, "xOffset": 5, "clip": true}},
    {"data": {"name": "summ"}, "transform": [{"filter": "datum.p == 'V' && datum.s == 'R'"}],
     "mark": {"type": "point", "shape": "triangle-right", "filled": false, "size": 625, "strokeWidth": 2, "color": "black", "opacity": 1, "xOffset": 12, "clip": true}},
    {"data": {"name": "stats"}, "transform": [{"filter": "datum.p == 'V'"}],
     "mark": {"type": "text", "align": "left", "baseline": "middle", "fontSize": 21.5, "color": "#111111"},
     "encoding": {"text": {"field": "t"}}},
    {"data": {"name": "sides"},
     "mark": {"type": "text", "align": "center", "baseline": "middle", "fontSize": 21, "color": "#111111"},
     "encoding": {"text": {"field": "t"}}},
    {"data": {"name": "groups"},
     "mark": {"type": "text", "align": "center", "baseline": "middle", "fontSize": 29.5},
     "encoding": {"text": {"field": "t"}, "color": {"field": "g", "type": "nominal", "scale": {"domain": ["FB","XC","SES"], "range": ["#4a80ec","#e5821f","#6bc64c"]}, "legend": null}}}
  ]
}
],
"spacing": 32
}
